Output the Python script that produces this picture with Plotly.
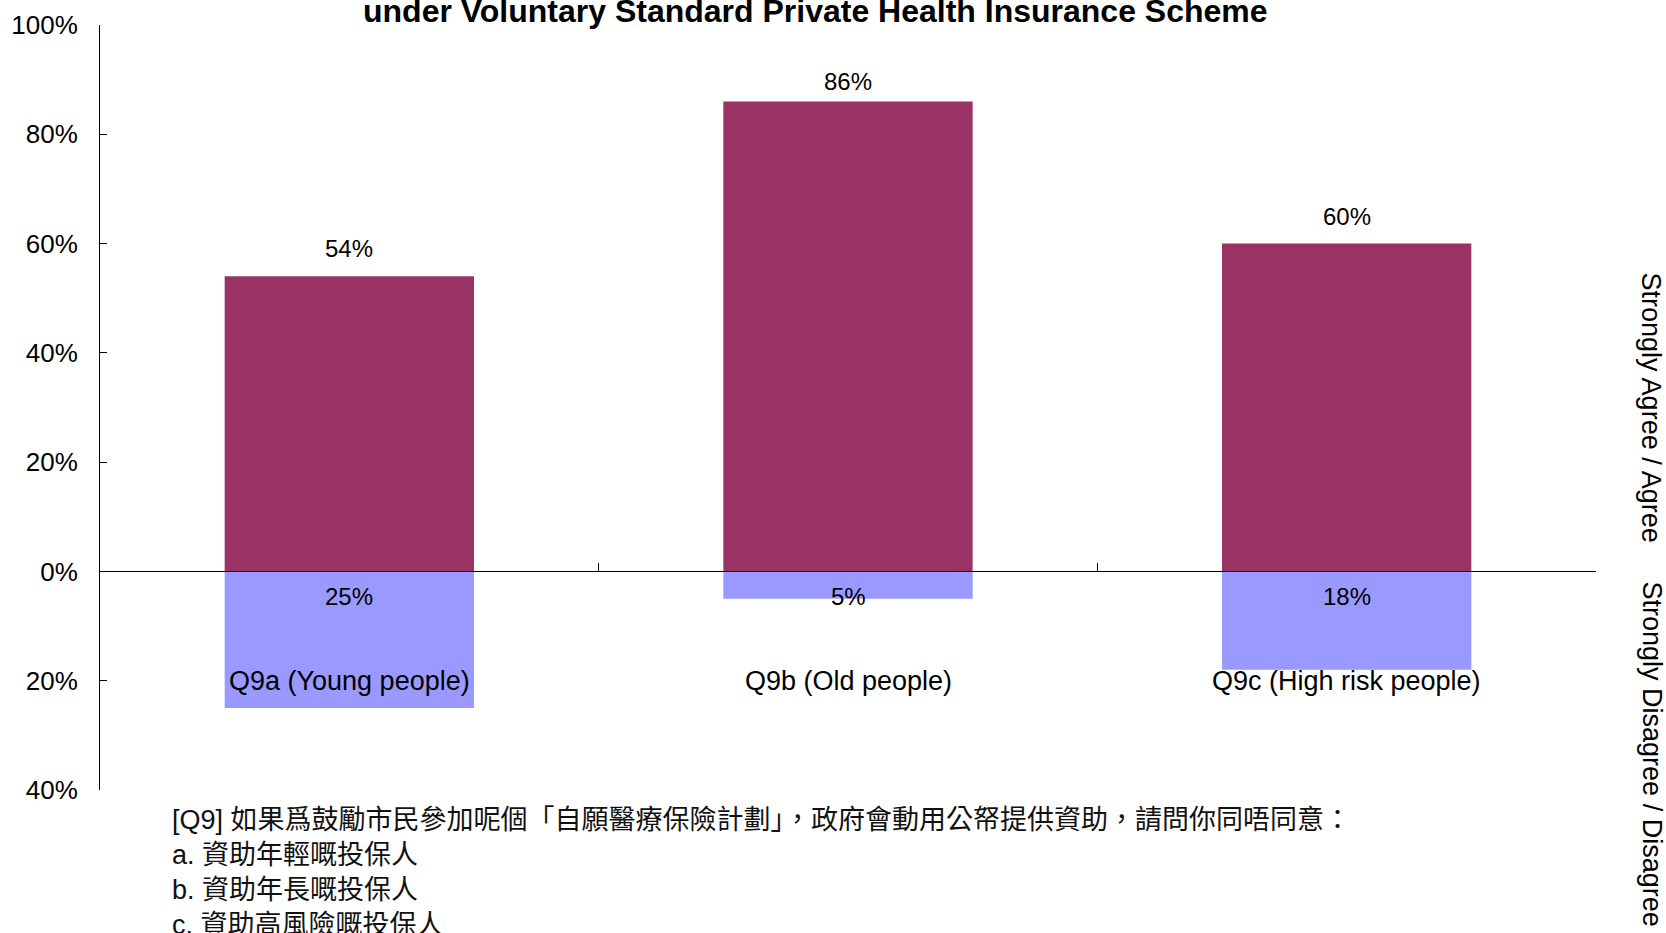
import plotly.graph_objects as go

categories = ["Q9a (Young people)", "Q9b (Old people)", "Q9c (High risk people)"]
agree = [54, 86, 60]
disagree = [25, 5, 18]
agree_labels = ["54%", "86%", "60%"]
disagree_labels = ["25%", "5%", "18%"]
y_tickvals = [-40, -20, 0, 20, 40, 60, 80, 100]
y_ticktext = ["40%", "20%", "0%", "20%", "40%", "60%", "80%", "100%"]
title_text = "under Voluntary Standard Private Health Insurance Scheme"
note_lines = [
    "[Q9] 如果爲鼓勵市民參加呢個「自願醫療保險計劃」，政府會動用公帑提供資助，請問你同唔同意：",
    "a. 資助年輕嘅投保人",
    "b. 資助年長嘅投保人",
    "c. 資助高風險嘅投保人",
]
series_names = ["Strongly Agree / Agree", "Strongly Disagree / Disagree"]

FONT = "Liberation Sans, Arial, Noto Sans CJK TC, sans-serif"
MAROON = "#993366"
LILAC = "#9999FF"
# label offsets (px above bar top); the tallest bar's label sits closer, as in the original
LABEL_SHIFT = {"Q9b (Old people)": 5}

fig = go.Figure()
fig.add_trace(go.Bar(x=categories, y=agree, name=series_names[0],
                     marker=dict(color=MAROON, line=dict(width=0)), width=0.5))
fig.add_trace(go.Bar(x=categories, y=[-v for v in disagree], name=series_names[1],
                     marker=dict(color=LILAC, line=dict(width=0)), width=0.5))

annotations = []
for c, v, t in zip(categories, agree, agree_labels):
    annotations.append(dict(x=c, y=v, xref="x", yref="y", text=t, showarrow=False,
                            yanchor="bottom", yshift=LABEL_SHIFT.get(c, 12),
                            font=dict(size=24, color="black", family=FONT)))
for c, t in zip(categories, disagree_labels):
    annotations.append(dict(x=c, y=0, xref="x", yref="y", text=t, showarrow=False,
                            yanchor="middle", yshift=-25, font=dict(size=24, color="black", family=FONT)))
for c in categories:
    annotations.append(dict(x=c, y=-20, xref="x", yref="y", text=c, showarrow=False,
                            yanchor="middle", font=dict(size=27, color="black", family=FONT)))
# side series labels
annotations.append(dict(x=1.0374, y=30, xref="paper", yref="y", text=series_names[0], showarrow=False,
                        textangle=90, xanchor="center", yanchor="middle",
                        font=dict(size=27, color="black", family=FONT)))
annotations.append(dict(x=1.0374, y=-33.5, xref="paper", yref="y", text=series_names[1], showarrow=False,
                        textangle=90, xanchor="center", yanchor="middle",
                        font=dict(size=27, color="black", family=FONT)))
# title
annotations.append(dict(x=0.478, y=1.0177, xref="paper", yref="paper", text="<b>" + title_text + "</b>",
                        showarrow=False, xanchor="center", yanchor="middle",
                        font=dict(size=32, color="black", family=FONT)))
# question note
annotations.append(dict(x=0.0468, y=-0.0165, xref="paper", yref="paper", text="<br>".join(note_lines),
                        showarrow=False, xanchor="left", yanchor="top", align="left",
                        font=dict(size=27, color="#111111", family=FONT)))

fig.update_layout(
    width=1666, height=933,
    margin=dict(l=100, r=70, t=25, b=143, autoexpand=False),
    paper_bgcolor="white", plot_bgcolor="white",
    barmode="relative", bargap=0.5,
    showlegend=False,
    font=dict(family=FONT, color="black"),
    annotations=annotations,
    xaxis=dict(type="category", showticklabels=False, showgrid=False, zeroline=False,
               showline=True, linecolor="black", linewidth=1.3, automargin=False,
               ticks="inside", tickson="boundaries", ticklen=8, tickcolor="black", tickwidth=1,
               anchor="free", position=40 / 140, range=[-0.5, 2.5]),
    yaxis=dict(range=[-40, 100], tickvals=y_tickvals, ticktext=y_ticktext, automargin=False,
               showgrid=False, zeroline=False, showline=True, linecolor="black", linewidth=1,
               ticks="inside", ticklen=7, tickcolor="black",
               tickfont=dict(size=26, color="black", family=FONT), ticklabelstandoff=16),
)

fig.write_html("out.html", config={"displayModeBar": False},
               post_script="document.body.style.margin='0';document.body.style.overflow='hidden';")
